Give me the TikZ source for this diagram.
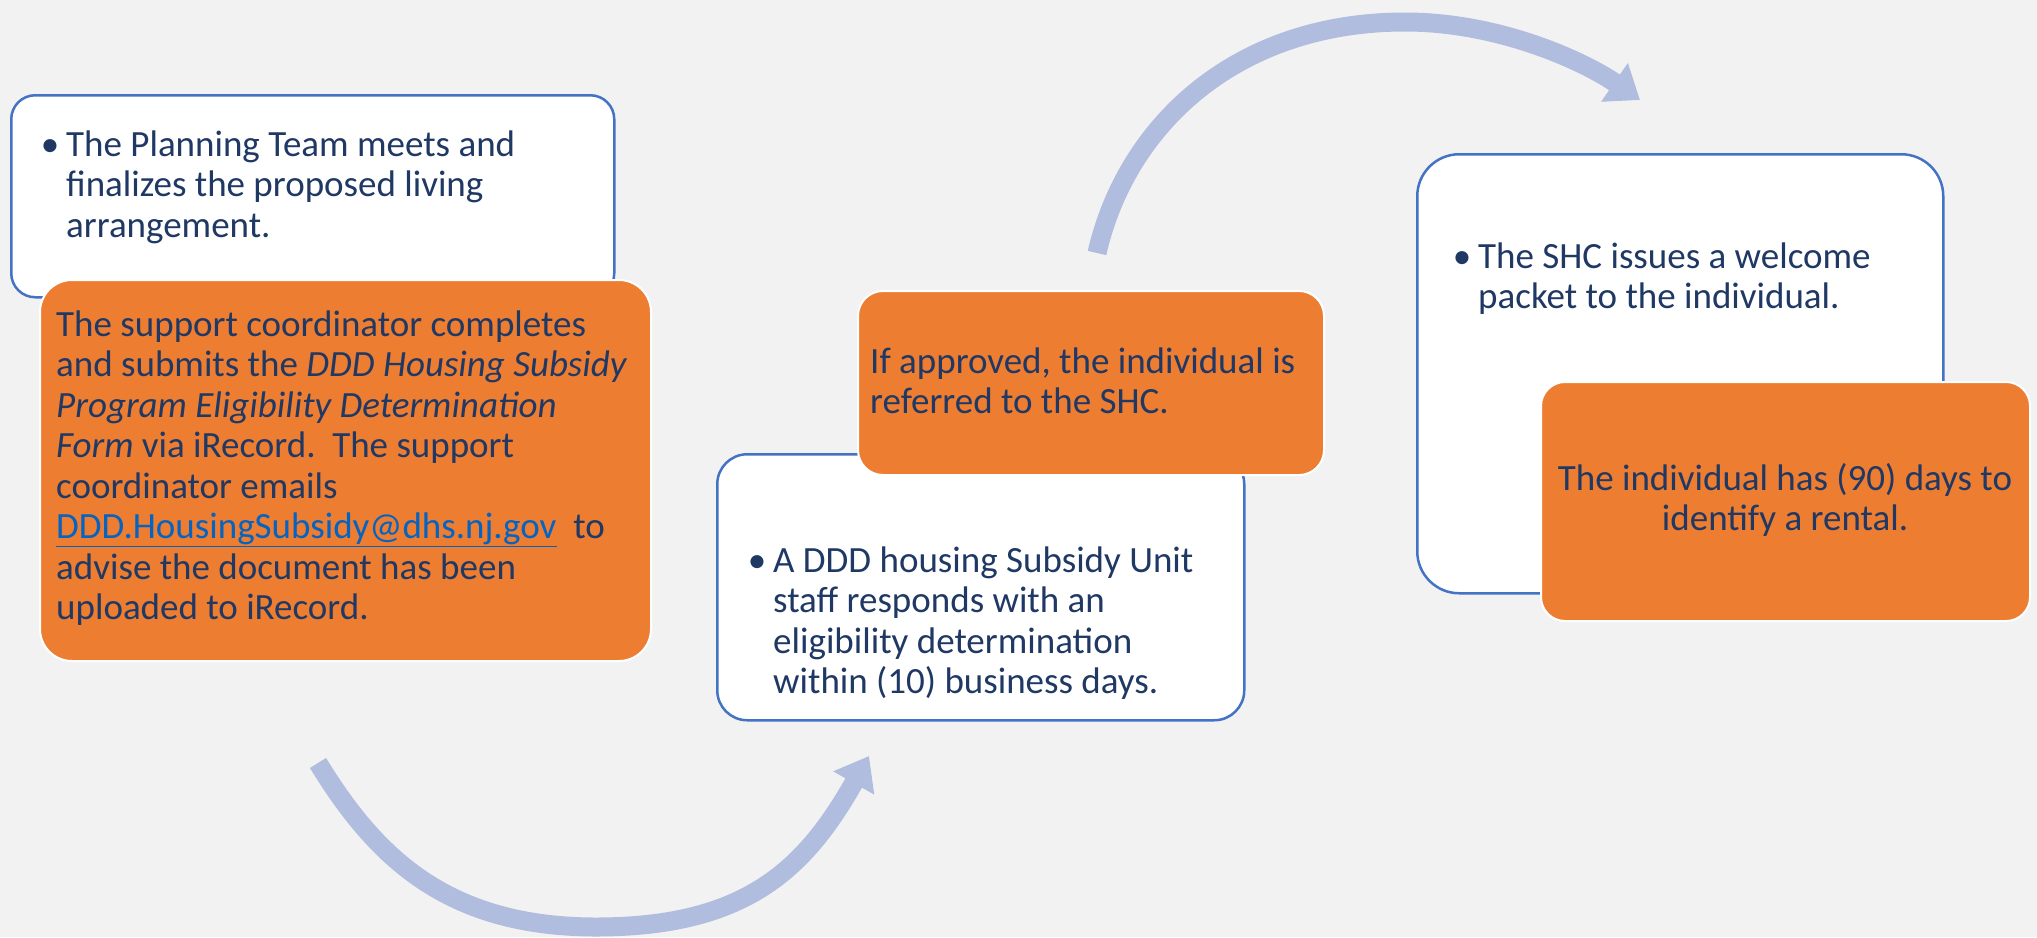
\documentclass[tikz,border=0pt]{standalone}
\usepackage{fontspec}
\setmainfont{Carlito}
\usetikzlibrary{arrows.meta}
\definecolor{bg}{HTML}{F2F2F2}
\definecolor{frame}{HTML}{4472C4}
\definecolor{accent}{HTML}{ED7D31}
\definecolor{ink}{HTML}{1F3864}
\definecolor{link}{HTML}{0563C1}
\definecolor{flow}{RGB}{176,189,223}
\newcommand{\bulletmark}{\leavevmode\llap{\textbullet\hspace{7pt}}}
\begin{document}
\begin{tikzpicture}[x=1pt,y=-1pt,
  whitebox/.style={draw=frame, line width=2.5pt, fill=white, anchor=north west, inner sep=0pt},
  orangebox/.style={draw=white, line width=2pt, fill=accent, anchor=north west, inner sep=0pt},
  body/.style={inner sep=0pt, anchor=base west, text=ink, font=\fontsize{37}{40.5}\selectfont},
  flowarrow/.style={draw=flow, line width=19pt, -{Triangle[length=31pt,width=45pt]}}
]
\useasboundingbox (0,0) rectangle (2037,937);
\fill[bg] (0,0) rectangle (2037,937);

% step 1: planning team and eligibility form
\node[whitebox, rounded corners=24pt, minimum width=603pt, minimum height=202pt] (plan) at (10,94) {};
\node[body] (planT) at (66,156) {\parbox[t]{540pt}{\raggedright\bulletmark The Planning Team meets and\\finalizes the proposed living\\arrangement.}};
\node[orangebox, rounded corners=32pt, minimum width=611pt, minimum height=381pt] (submit) at (39,279) {};
\node[body] (submitT) at (56,336) {\parbox[t]{590pt}{\raggedright The support coordinator completes\\
and submits the \textit{DDD Housing Subsidy}\\
\textit{Program Eligibility Determination}\\
\textit{Form} via iRecord.\ \ The support\\
coordinator emails\\
{\color{link}\underline{DDD.HousingSubsidy@dhs.nj.gov}}\ \ to\\
advise the document has been\\
uploaded to iRecord.}};

% step 2: eligibility determination and referral
\node[whitebox, rounded corners=30pt, minimum width=527pt, minimum height=266pt] (respond) at (716,453) {};
\node[body] (respondT) at (773,572) {\parbox[t]{460pt}{\raggedright\bulletmark A DDD housing Subsidy Unit\\staff responds with an\\eligibility determination\\within (10) business days.}};
\node[orangebox, rounded corners=25pt, minimum width=466pt, minimum height=184pt] (approve) at (857,290) {};
\node[body] (approveT) at (870,373) {\parbox[t]{450pt}{\raggedright If approved, the individual is\\referred to the SHC.}};

% step 3: welcome packet and rental search
\node[whitebox, rounded corners=42pt, minimum width=526pt, minimum height=439pt] (welcome) at (1416,153) {};
\node[body] (welcomeT) at (1478,268) {\parbox[t]{440pt}{\raggedright\bulletmark The SHC issues a welcome\\packet to the individual.}};
\node[orangebox, rounded corners=24pt, minimum width=489pt, minimum height=239pt] (rental) at (1540,381) {};
\node[body, anchor=base] (rentalT) at (1785,490) {\parbox[t]{480pt}{\centering The individual has (90) days to\\identify a rental.}};

% curved flow arrows
\coordinate (lowS) at (318,763);
\coordinate (lowM) at (596,927);
\coordinate (lowE) at (869,756);
\draw[flowarrow] (lowS) .. controls (375,856) and (446,927) .. (lowM)
  .. controls (746,927) and (805,869) .. (lowE);
\coordinate (highS) at (1097,253);
\coordinate (highM) at (1405,22);
\coordinate (highE) at (1640,100);
\draw[flowarrow] (highS) .. controls (1126,126) and (1235,22) .. (highM)
  .. controls (1500,22) and (1585,62) .. (highE);
\end{tikzpicture}
\end{document}
